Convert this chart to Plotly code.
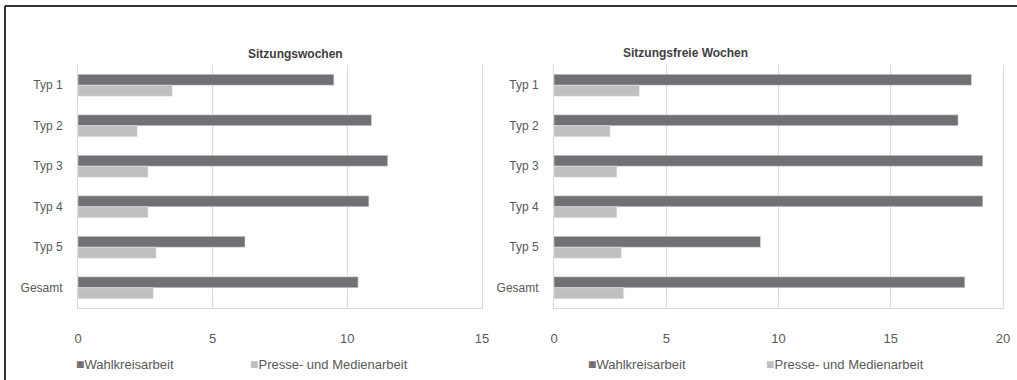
import plotly.graph_objects as go

categories = ["Typ 1", "Typ 2", "Typ 3", "Typ 4", "Typ 5", "Gesamt"]
series_names = ["Wahlkreisarbeit", "Presse- und Medienarbeit"]
sitzung_wahlkreis = [9.5, 10.9, 11.5, 10.8, 6.2, 10.4]
sitzung_presse = [3.5, 2.2, 2.6, 2.6, 2.9, 2.8]
frei_wahlkreis = [18.6, 18.0, 19.1, 19.1, 9.2, 18.3]
frei_presse = [3.8, 2.5, 2.8, 2.8, 3.0, 3.1]
titles = ["Sitzungswochen", "Sitzungsfreie Wochen"]
left_ticks = [0, 5, 10, 15]
right_ticks = [0, 5, 10, 15, 20]

W, H = 1017, 380
DARK = "#717174"
LIGHT = "#bfbfbf"
TEXT = "#595959"
GRID = "#d9d9d9"
FONT = "Liberation Sans, Arial, sans-serif"

fig = go.Figure()

def px_x(v):
    return v / W

def px_y(v):
    return 1 - v / H

fig.add_trace(go.Bar(y=categories, x=sitzung_wahlkreis, name=series_names[0], orientation="h",
                     marker_color=DARK, xaxis="x", yaxis="y"))
fig.add_trace(go.Bar(y=categories, x=sitzung_presse, name=series_names[1], orientation="h",
                     marker_color=LIGHT, xaxis="x", yaxis="y"))
fig.add_trace(go.Bar(y=categories, x=frei_wahlkreis, name=series_names[0], orientation="h",
                     marker_color=DARK, xaxis="x2", yaxis="y2"))
fig.add_trace(go.Bar(y=categories, x=frei_presse, name=series_names[1], orientation="h",
                     marker_color=LIGHT, xaxis="x2", yaxis="y2"))

ydom = [px_y(308), px_y(65)]
xcommon = dict(showgrid=True, gridcolor=GRID, gridwidth=1, zeroline=False,
               showline=True, linecolor=GRID, linewidth=1, ticks="",
               ticklabelstandoff=18, tickfont=dict(family=FONT, size=13, color=TEXT))
ycommon = dict(autorange="reversed", showgrid=False, zeroline=False, showline=True,
               mirror=True, linecolor=GRID, linewidth=1, ticks="",
               ticklabelstandoff=12, tickfont=dict(family=FONT, size=12, color=TEXT))

def legend_ann(x, name, color):
    return dict(text='<span style="color:%s;font-size:14px">■</span>%s' % (color, name),
                x=px_x(x), y=px_y(364), xref="paper", yref="paper", xanchor="left",
                yanchor="middle", showarrow=False,
                font=dict(family=FONT, size=13, color=TEXT))

annotations = [
    dict(text="<b>" + titles[0] + "</b>", x=px_x(246), y=px_y(45), xref="paper", yref="paper",
         showarrow=False, font=dict(family=FONT, size=12, color="#404040")),
    dict(text="<b>" + titles[1] + "</b>", x=px_x(750), y=px_y(44), xref="paper", yref="paper",
         showarrow=False, font=dict(family=FONT, size=12, color="#404040")),
    legend_ann(74, series_names[0], DARK),
    legend_ann(248, series_names[1], LIGHT),
    legend_ann(586, series_names[0], DARK),
    legend_ann(764, series_names[1], LIGHT),
]

fig.update_layout(
    width=W, height=H, autosize=False,
    margin=dict(l=0, r=0, t=0, b=0, autoexpand=False),
    paper_bgcolor="white", plot_bgcolor="white",
    barmode="group", bargap=0.46, bargroupgap=0,
    showlegend=False,
    font=dict(family=FONT, color=TEXT),
    xaxis=dict(domain=[px_x(78), px_x(482)], range=[0, 15], tickvals=left_ticks,
               anchor="y", **xcommon),
    yaxis=dict(domain=ydom, anchor="x", **ycommon),
    xaxis2=dict(domain=[px_x(554), px_x(1003)], range=[0, 20], tickvals=right_ticks,
                anchor="y2", **xcommon),
    yaxis2=dict(domain=ydom, anchor="x2", **ycommon),
    annotations=annotations,
    shapes=[
        dict(type="line", xref="paper", yref="paper", x0=px_x(5), x1=1, y0=px_y(6), y1=px_y(6),
             line=dict(color="#333333", width=2)),
        dict(type="line", xref="paper", yref="paper", x0=px_x(5), x1=px_x(5), y0=px_y(6), y1=0,
             line=dict(color="#333333", width=2)),
    ],
)

fig.write_html("out.html", config={"responsive": False},
               post_script="document.body.style.margin='0';document.body.style.overflow='hidden';")
